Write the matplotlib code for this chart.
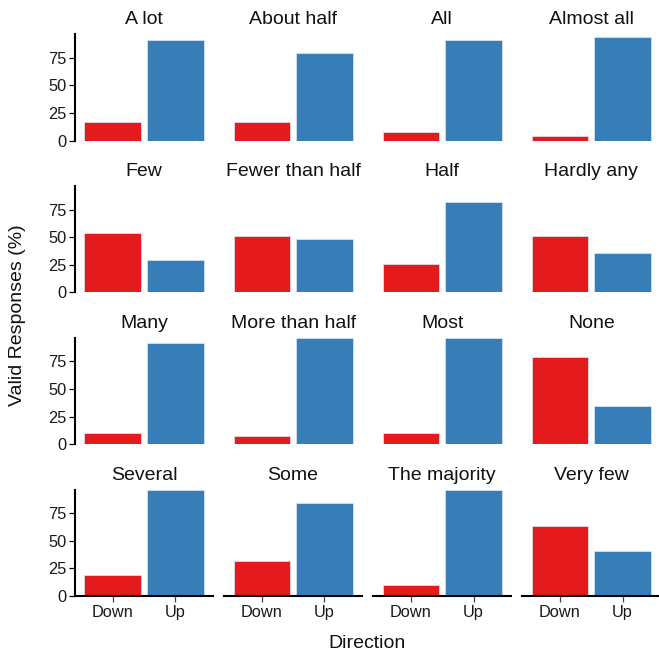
import matplotlib
matplotlib.use("Agg")
import matplotlib.pyplot as plt

plt.rcParams["font.family"] = ["Liberation Sans", "DejaVu Sans"]

quantifiers = [
    "A lot", "About half", "All", "Almost all",
    "Few", "Fewer than half", "Half", "Hardly any",
    "Many", "More than half", "Most", "None",
    "Several", "Some", "The majority", "Very few",
]
directions = ["Down", "Up"]
down_pct = [16.6, 16.6, 7.6, 4.2,
            54.2, 51.2, 26.0, 51.2,
            10.3, 7.3, 10.3, 78.8,
            19.4, 31.5, 10.0, 63.0]
up_pct = [91.0, 79.0, 91.0, 94.0,
          29.4, 48.1, 82.0, 35.4,
          91.5, 96.4, 96.4, 34.8,
          96.4, 84.5, 96.4, 40.9]
colors = ["#E41A1C", "#377EB8"]
y_ticks = [0, 25, 50, 75]

W, H = 659, 653
fig = plt.figure(figsize=(W / 100, H / 100), dpi=100)

# panel grid in pixels
left0, col_pitch, pw = 75, 149.1, 138.0
top0, row_pitch, ph = 34.2, 151.8, 106.4
ymax = max(max(down_pct), max(up_pct))

for k, name in enumerate(quantifiers):
    r, c = divmod(k, 4)
    x0 = left0 + c * col_pitch
    y_top = top0 + r * row_pitch
    ax = fig.add_axes([x0 / W, (H - y_top - ph) / H, pw / W, ph / H])
    ax.bar([1, 2], [down_pct[k], up_pct[k]], width=0.9, color=colors,
           edgecolor="#dfe8f2", linewidth=0.5)
    ax.set_xlim(0.4, 2.6)
    ax.set_ylim(0, ymax)
    for s in ax.spines.values():
        s.set_visible(False)
    ax.annotate(name, xy=(0.5, 1), xycoords="axes fraction",
                xytext=(0, 7.0), textcoords="offset points",
                ha="center", va="baseline", fontsize=14, color="#111111")

    if c == 0:
        ax.spines["left"].set_visible(True)
        ax.spines["left"].set_linewidth(1.5)
        ax.set_yticks(y_ticks)
        ax.tick_params(axis="y", length=4, width=0.9, pad=2,
                       labelsize=11.8, labelcolor="#1a1a1a")
    else:
        ax.set_yticks([])

    if r == 3:
        ax.spines["bottom"].set_visible(True)
        ax.spines["bottom"].set_linewidth(1.5)
        ax.set_xticks([1, 2])
        ax.set_xticklabels(directions)
        ax.tick_params(axis="x", length=4, width=0.9, pad=2.5,
                       labelsize=11.8, labelcolor="#1a1a1a", color="#444444")
    else:
        ax.set_xticks([])

fig.text(18 / W, 1 - 315 / H, "Valid Responses (%)", rotation=90,
         ha="center", va="center", fontsize=14, color="#111111")
fig.text(367 / W, 1 - 643 / H, "Direction", ha="center", va="center",
         fontsize=14, color="#111111")

fig.savefig("out.png", dpi=100)
